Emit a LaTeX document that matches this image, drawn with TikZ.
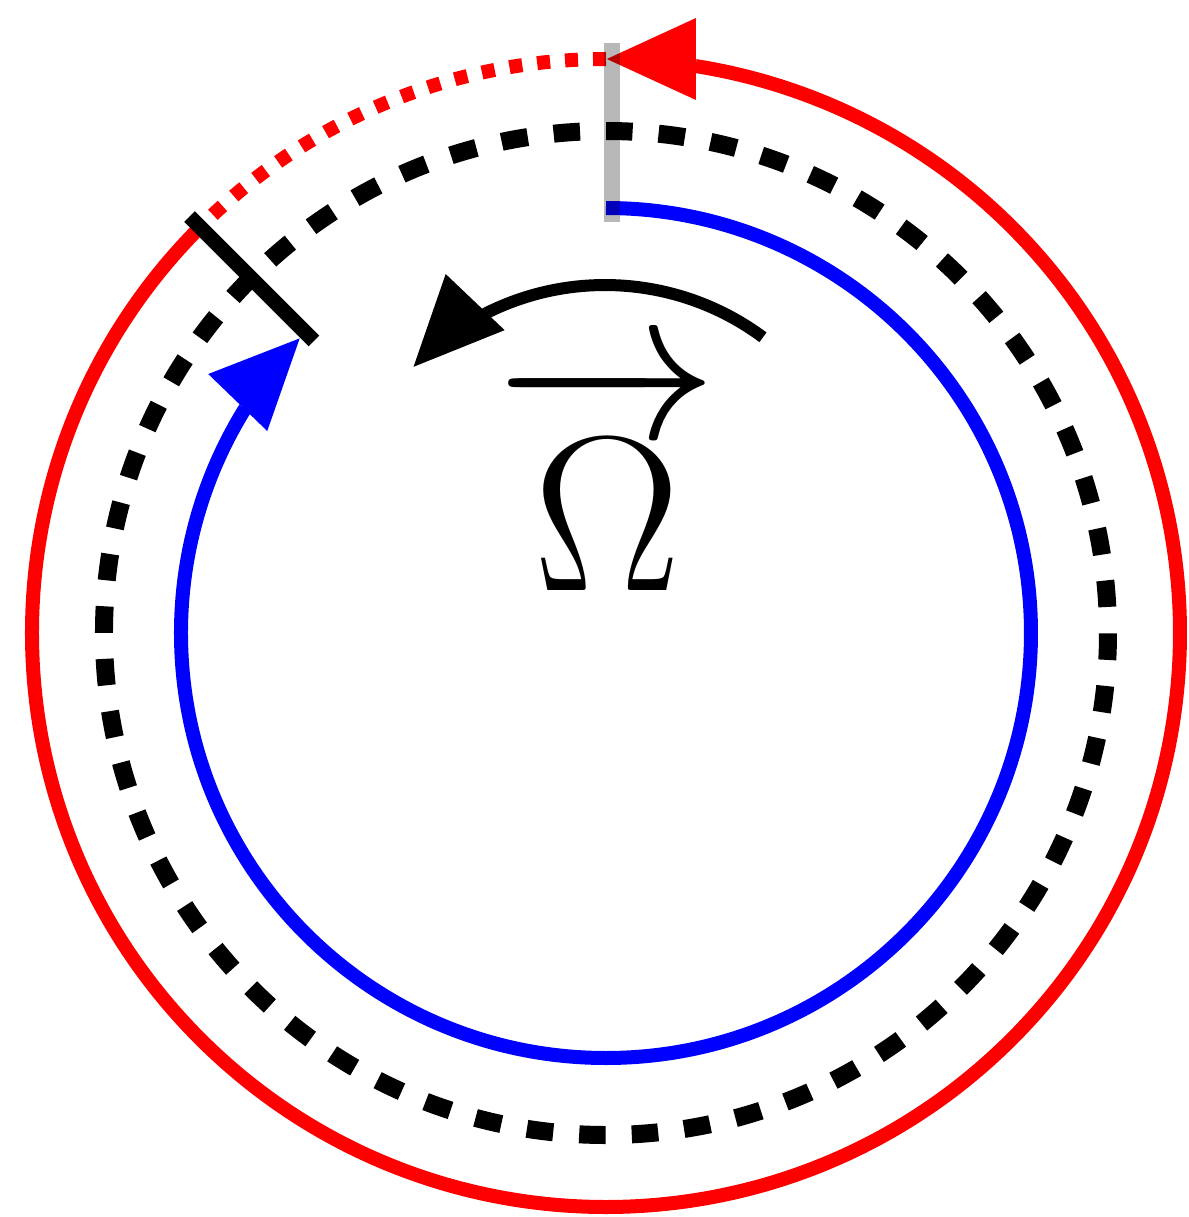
\documentclass[tikz,border=0pt]{standalone}
\usepackage{amsmath}
\usetikzlibrary{arrows.meta}
\definecolor{pathred}{HTML}{FF0000}
\definecolor{pathblue}{HTML}{0000FF}
\tikzset{tip/.style={-{Triangle[length=9mm,width=7.8mm]}},
  orbit/.style={line width=1.4mm},
  ring/.style={line width=1.8mm,dash pattern=on 2.65mm off 2.607mm,dash phase=2.65mm},
  gate/.style={line width=1.6mm,draw=black,opacity=0.28}}
\begin{document}
\begin{tikzpicture}
\useasboundingbox (-6.06,-5.84) rectangle (5.83,6.33);
% outer path, dotted where it is not yet travelled
\draw[orbit,pathred,dash pattern=on 1.3mm off 1.5mm] (90:5.74) arc[start angle=90,end angle=135,radius=5.74];
\draw[orbit,pathred] (135:5.74) arc[start angle=135,end angle=441.02,radius=5.74];
\draw[orbit,pathred,tip] (441.02:5.74) arc[start angle=441.02,end angle=450,radius=5.74];
% middle ring
\draw[ring] (0,0) circle[radius=5.02];
% inner path
\draw[orbit,pathblue] (90:4.25) arc[start angle=90,end angle=-211.87,radius=4.25];
\draw[orbit,pathblue,tip] (-211.87:4.25) arc[start angle=-211.87,end angle=-224,radius=4.25];
% sense of rotation
\draw[line width=1.2mm] ([shift={(-0.01,0.83)}]53.4:2.65) arc[start angle=53.4,end angle=116.9,radius=2.65];
\draw[line width=1.2mm,tip] ([shift={(-0.01,0.83)}]116.9:2.65) arc[start angle=116.9,end angle=136.4,radius=2.65];
\node[anchor=base,font=\Huge,scale=2.53] (omega) at (0.01,0.43) {$\overrightarrow{\Omega}$};
% cut and start marks
\draw[line width=1.5mm] (135:4.13) -- (135:5.89);
\draw[gate] (0.06,4.11) -- (0.06,5.90);
\end{tikzpicture}
\end{document}
